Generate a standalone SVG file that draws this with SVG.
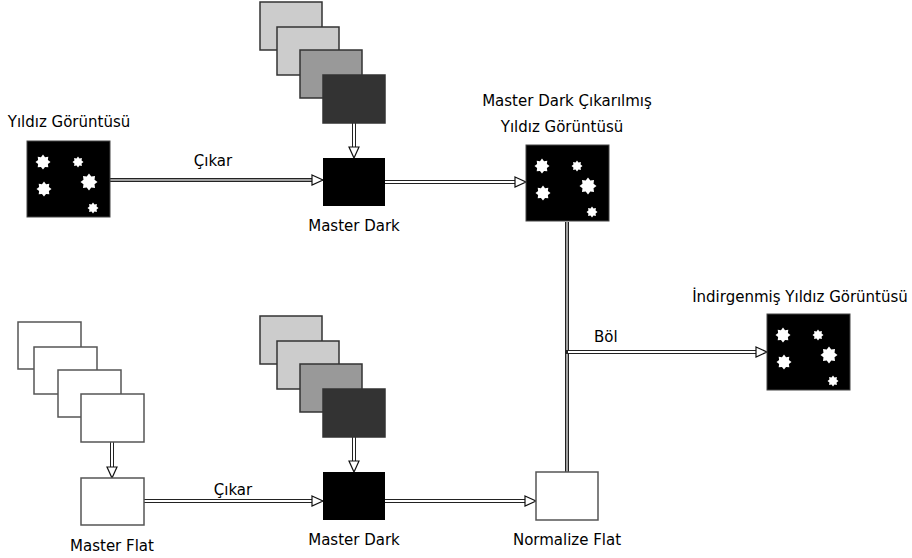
<svg xmlns="http://www.w3.org/2000/svg" xmlns:xlink="http://www.w3.org/1999/xlink" width="912" height="558" viewBox="0 0 912 558">
  <style>
    text { font-family: "DejaVu Sans", "Liberation Sans", sans-serif; font-size: 15px; fill: #000; }
    .mid { text-anchor: middle; }
    .frame { stroke: #333; stroke-width: 1.5; }
    .flat { fill: #fff; stroke: #555; stroke-width: 1.5; }
    .pipe-out { fill: none; stroke: #222; stroke-width: 4; }
    .pipe-in { fill: none; stroke: #fff; stroke-width: 2; }
    .pipe-in.gray { stroke: #a0a0a0; }
  </style>
  <defs>
    <marker id="arrow" markerUnits="userSpaceOnUse" markerWidth="14" markerHeight="14" viewBox="0 0 14 14" refX="12" refY="7" orient="auto">
      <path d="M1,2 L12,7 L1,12 Z" fill="#fff" stroke="#111" stroke-width="1.2"/>
    </marker>
    <path id="star" d="M10,0 L6.5,2.7 L7.07,7.07 L2.7,6.5 L0,10 L-2.7,6.5 L-7.07,7.07 L-6.5,2.7 L-10,0 L-6.5,-2.7 L-7.07,-7.07 L-2.7,-6.5 L0,-10 L2.7,-6.5 L7.07,-7.07 L6.5,-2.7 Z" fill="#fff"/>
    <g id="starfield">
      <rect width="83" height="76" fill="#000" stroke="#444" stroke-width="1"/>
      <use xlink:href="#star" transform="translate(16,21) scale(0.75)"/>
      <use xlink:href="#star" transform="translate(51,21) scale(0.55)"/>
      <use xlink:href="#star" transform="translate(62,41) scale(0.85)"/>
      <use xlink:href="#star" transform="translate(17,48) scale(0.75)"/>
      <use xlink:href="#star" transform="translate(66,67) scale(0.55)"/>
    </g>
  </defs>

  <!-- connectors -->
  <g id="connectors">
    <!-- star image to upper master dark -->
    <path class="pipe-out" d="M110,180 H312"/>
    <path class="pipe-in gray" d="M110,180 H323" marker-end="url(#arrow)"/>
    <!-- dark frames to upper master dark -->
    <path class="pipe-out" d="M354,123 V147"/>
    <path class="pipe-in" d="M354,123 V158" marker-end="url(#arrow)"/>
    <!-- upper master dark to subtracted image -->
    <path class="pipe-out" d="M385,182 H515"/>
    <path class="pipe-in" d="M385,182 H526" marker-end="url(#arrow)"/>
    <!-- subtracted image down to normalized flat -->
    <path class="pipe-out" d="M567,222 V472"/>
    <path class="pipe-in gray" d="M567,222 V472"/>
    <!-- divide branch to reduced image -->
    <path class="pipe-out" d="M566,352 H756"/>
    <path class="pipe-in" d="M568,352 H767" marker-end="url(#arrow)"/>
    <!-- flat frames to master flat -->
    <path class="pipe-out" d="M112,442 V467"/>
    <path class="pipe-in" d="M112,442 V478" marker-end="url(#arrow)"/>
    <!-- master flat to lower master dark -->
    <path class="pipe-out" d="M144,501 H312"/>
    <path class="pipe-in" d="M144,501 H323" marker-end="url(#arrow)"/>
    <!-- dark frames to lower master dark -->
    <path class="pipe-out" d="M354,437 V461"/>
    <path class="pipe-in" d="M354,437 V472" marker-end="url(#arrow)"/>
    <!-- lower master dark to normalized flat -->
    <path class="pipe-out" d="M385,501 H525"/>
    <path class="pipe-in" d="M385,501 H536" marker-end="url(#arrow)"/>
  </g>

  <!-- edge labels -->
  <text class="mid" x="213" y="166">Çıkar</text>
  <text x="594" y="342">Böl</text>
  <text class="mid" x="233" y="495">Çıkar</text>

  <g id="star-image">
    <text class="mid" x="69" y="127">Yıldız Görüntüsü</text>
    <use xlink:href="#starfield" transform="translate(27,141)"/>
  </g>

  <g id="dark-frames-top">
    <rect class="frame" x="260" y="2" width="62" height="48" fill="#ccc"/>
    <rect class="frame" x="277" y="27" width="62" height="48" fill="#ccc"/>
    <rect class="frame" x="300" y="50" width="62" height="48" fill="#999"/>
    <rect class="frame" x="323" y="75" width="62" height="48" fill="#333"/>
  </g>

  <g id="master-dark-top">
    <rect x="323" y="158" width="62" height="48" fill="#000"/>
    <text class="mid" x="354" y="231">Master Dark</text>
  </g>

  <g id="subtracted-image">
    <text class="mid" x="567" y="106">Master Dark Çıkarılmış</text>
    <text class="mid" x="562" y="132">Yıldız Görüntüsü</text>
    <use xlink:href="#starfield" transform="translate(526,145)"/>
  </g>

  <g id="reduced-image">
    <text class="mid" x="800" y="302">İndirgenmiş Yıldız Görüntüsü</text>
    <use xlink:href="#starfield" transform="translate(767,314)"/>
  </g>

  <g id="flat-frames">
    <rect class="flat" x="18" y="322" width="63" height="47"/>
    <rect class="flat" x="34" y="347" width="63" height="47"/>
    <rect class="flat" x="58" y="370" width="63" height="47"/>
    <rect class="flat" x="81" y="394" width="63" height="48"/>
  </g>

  <g id="master-flat">
    <rect class="flat" x="81" y="478" width="63" height="47"/>
    <text class="mid" x="112" y="551">Master Flat</text>
  </g>

  <g id="dark-frames-bottom">
    <rect class="frame" x="260" y="316" width="62" height="48" fill="#ccc"/>
    <rect class="frame" x="277" y="341" width="62" height="48" fill="#ccc"/>
    <rect class="frame" x="300" y="364" width="62" height="48" fill="#999"/>
    <rect class="frame" x="323" y="389" width="62" height="48" fill="#333"/>
  </g>

  <g id="master-dark-bottom">
    <rect x="323" y="472" width="62" height="48" fill="#000"/>
    <text class="mid" x="354" y="545">Master Dark</text>
  </g>

  <g id="normalize-flat">
    <rect class="flat" x="536" y="472" width="62" height="48"/>
    <text class="mid" x="567" y="545">Normalize Flat</text>
  </g>
</svg>
